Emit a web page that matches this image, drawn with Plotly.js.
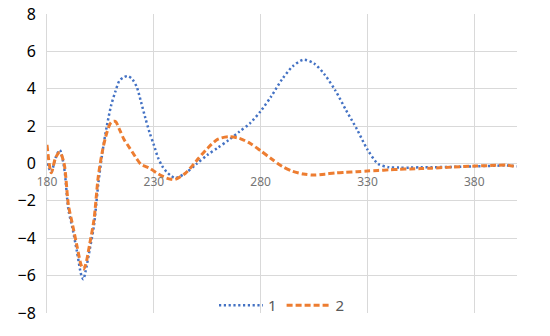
<!DOCTYPE html>
<html>
<head>
<meta charset="utf-8">
<script src="https://cdn.plot.ly/plotly-3.0.1.min.js"></script>
<style>
  html, body { margin: 0; padding: 0; background: #fff; }
  #chart { width: 550px; height: 336px; }
</style>
</head>
<body>
<div id="chart"></div>
<script>
// wavelength (nm)
const wavelengths = [
  180, 182, 184, 186, 188, 190, 192, 194, 196, 197, 198,
  200, 202, 204, 206, 208, 210, 212, 214, 216, 218,
  220, 222, 224, 226, 228, 230, 232, 234, 236, 238,
  240, 245, 250, 255, 260, 265, 270, 275, 280, 285,
  290, 295, 300, 305, 310, 315, 320, 325, 330, 335,
  340, 345, 350, 355, 360, 370, 380, 390, 395, 400,
];

const series1 = [
  0.0, -0.45, 0.3, 0.72, -0.2, -2.45, -3.5, -4.7, -5.95, -6.2, -5.8,
  -4.6, -3.3, -1.1, 0.65, 2.0, 3.1, 3.85, 4.45, 4.62, 4.68,
  4.5, 4.1, 3.3, 2.45, 1.66, 1.0, 0.3, -0.15, -0.45, -0.65,
  -0.78, -0.5, -0.02, 0.45, 0.85, 1.25, 1.7, 2.15, 2.8, 3.6,
  4.5, 5.2, 5.55, 5.35, 4.75, 3.9, 2.85, 1.85, 0.75, -0.02,
  -0.2, -0.22, -0.22, -0.2, -0.2, -0.18, -0.15, -0.12, -0.1, -0.15,
];

const series2 = [
  1.0, -0.5, 0.3, 0.6, 0.0, -2.2, -3.3, -4.4, -5.45, -5.65, -5.45,
  -4.3, -3.0, -0.7, 0.7, 1.65, 2.2, 2.25, 1.8, 1.3, 0.95,
  0.6, 0.25, -0.05, -0.15, -0.25, -0.4, -0.55, -0.68, -0.78, -0.84,
  -0.85, -0.5, 0.15, 0.8, 1.3, 1.43, 1.35, 1.08, 0.68, 0.25,
  -0.15, -0.42, -0.56, -0.62, -0.57, -0.5, -0.47, -0.44, -0.4, -0.37,
  -0.34, -0.31, -0.29, -0.27, -0.25, -0.19, -0.14, -0.1, -0.08, -0.19,
];

const seriesNames = ['1', '2'];
const seriesColors = ['#4472C4', '#ED7D31'];

const gridColor = '#d9d9d9';

const plotData = [
  {
    name: seriesNames[0],
    x: wavelengths,
    y: series1,
    mode: 'lines',
    line: { color: seriesColors[0], width: 2.5, dash: '2.2px,2.6px', shape: 'spline', smoothing: 0.8 },
    hoverinfo: 'skip',
  },
  {
    name: seriesNames[1],
    x: wavelengths,
    y: series2,
    mode: 'lines',
    line: { color: seriesColors[1], width: 3, dash: '6px,3px', shape: 'spline', smoothing: 0.8 },
    hoverinfo: 'skip',
  },
];

const plotLayout = {
  width: 550,
  height: 336,
  margin: { l: 47, r: 33, t: 14, b: 23 },
  paper_bgcolor: '#fff',
  plot_bgcolor: '#fff',
  font: { family: 'Noto Sans, Open Sans, sans-serif' },
  showlegend: true,
  legend: {
    orientation: 'h',
    x: 0.5,
    xanchor: 'center',
    y: 0.025,
    yanchor: 'middle',
    itemwidth: 44,
    bgcolor: 'rgba(0,0,0,0)',
    font: { size: 15, color: '#595959' },
  },
  xaxis: {
    range: [180, 400],
    tick0: 180,
    dtick: 50,
    showgrid: true,
    gridcolor: gridColor,
    gridwidth: 1,
    zeroline: false,
    showline: false,
    anchor: 'free',
    position: 0.5,
    ticks: 'outside',
    ticklen: 7,
    tickcolor: 'rgba(0,0,0,0)',
    tickfont: { size: 12, color: '#757575' },
    fixedrange: true,
  },
  yaxis: {
    range: [-8, 8],
    dtick: 2,
    showgrid: true,
    gridcolor: gridColor,
    gridwidth: 1,
    zeroline: false,
    showline: true,
    linecolor: gridColor,
    linewidth: 1,
    ticks: 'outside',
    ticklen: 7,
    tickcolor: 'rgba(0,0,0,0)',
    tickfont: { size: 16, color: '#000' },
    fixedrange: true,
  },
};

Plotly.newPlot('chart', plotData, plotLayout, { displayModeBar: false, staticPlot: true });
</script>
</body>
</html>
